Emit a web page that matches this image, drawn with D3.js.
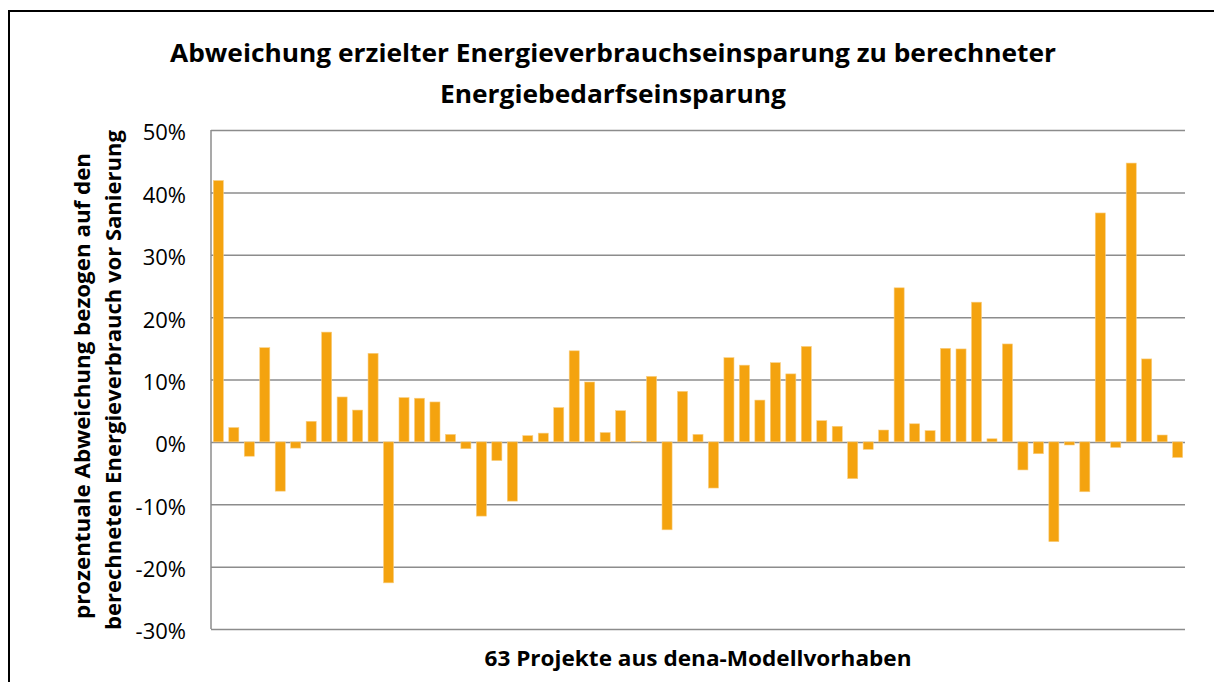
<!DOCTYPE html>
<html>
<head>
<meta charset="utf-8">
<script src="https://cdn.jsdelivr.net/npm/d3@7"></script>
<style>
  body { margin: 0; background: #fff; }
  svg { display: block; }
</style>
</head>
<body>
<div id="chart"></div>
<script>
// values (share, 0.1 = 10%)
const projects = d3.range(1, 64);
const deviation = [
  0.419, 0.023, -0.023, 0.151, -0.079, -0.010, 0.033, 0.176, 0.072, 0.051,
  0.142, -0.226, 0.071, 0.070, 0.064, 0.012, -0.011, -0.119, -0.030, -0.095,
  0.010, 0.014, 0.055, 0.146, 0.096, 0.015, 0.050, 0.001, 0.105, -0.141,
  0.081, 0.012, -0.074, 0.135, 0.123, 0.067, 0.127, 0.109, 0.153, 0.034,
  0.025, -0.059, -0.012, 0.019, 0.247, 0.029, 0.018, 0.150, 0.149, 0.224,
  0.005, 0.157, -0.045, -0.019, -0.160, -0.005, -0.080, 0.367, -0.009, 0.447,
  0.133, 0.011, -0.025
];
const yTicks = [0.5, 0.4, 0.3, 0.2, 0.1, 0, -0.1, -0.2, -0.3];
const titleLines = [
  "Abweichung erzielter Energieverbrauchseinsparung zu berechneter",
  "Energiebedarfseinsparung"
];
const yTitleLines = [
  "prozentuale Abweichung bezogen auf den",
  "berechneten Energieverbrauch vor Sanierung"
];
const xTitle = "63 Projekte aus dena-Modellvorhaben";

const width = 1214, height = 682;
const plot = { left: 211, right: 1185, top: 130, bottom: 629 };

const svg = d3.select("#chart")
  .append("svg")
  .attr("width", width)
  .attr("height", height);

// outer chart frame (runs off the right/bottom edge in the reference)
svg.append("rect")
  .attr("x", 9).attr("y", 11)
  .attr("width", 1230).attr("height", 700)
  .attr("fill", "#fff")
  .attr("stroke", "#000")
  .attr("stroke-width", 2);

const x = d3.scaleBand()
  .domain(projects)
  .range([plot.left, plot.right])
  .paddingInner(0.35)
  .paddingOuter(0.15);

const y = d3.scaleLinear()
  .domain([-0.3, 0.5])
  .range([plot.bottom, plot.top]);

const pct = d3.formatLocale({ decimal: ",", thousands: ".", grouping: [3], currency: ["", "€"], minus: "-" }).format(".0%");

// gridlines + tick labels
const yAxis = d3.axisLeft(y)
  .tickValues(yTicks)
  .tickFormat(pct)
  .tickSize(-(plot.right - plot.left))
  .tickPadding(25);

const gy = svg.append("g")
  .attr("transform", `translate(${plot.left},0)`)
  .call(yAxis);

gy.select(".domain").remove();
gy.selectAll(".tick line")
  .attr("stroke", "#8c8c8c")
  .attr("stroke-width", 1.5);
gy.selectAll(".tick text")
  .attr("fill", "#000")
  .style("font-family", "'Open Sans', sans-serif")
  .style("font-size", "22px")
  .attr("dy", "0.45em");

// left axis line
svg.append("line")
  .attr("x1", plot.left).attr("x2", plot.left)
  .attr("y1", plot.top).attr("y2", plot.bottom)
  .attr("stroke", "#8c8c8c")
  .attr("stroke-width", 1.5);

// bars
svg.append("g")
  .selectAll("rect")
  .data(deviation)
  .join("rect")
  .attr("x", (d, i) => x(projects[i]))
  .attr("width", x.bandwidth())
  .attr("y", d => y(Math.max(0, d)))
  .attr("height", d => Math.abs(y(d) - y(0)))
  .attr("fill", "#f4a30f")
  .attr("stroke", "#f9cf84")
  .attr("stroke-width", 0.6);

// title
svg.append("g")
  .selectAll("text")
  .data(titleLines)
  .join("text")
  .attr("x", 613)
  .attr("y", (d, i) => 62 + i * 41)
  .attr("text-anchor", "middle")
  .attr("textLength", (d, i) => i === 0 ? 886 : 346)
  .attr("lengthAdjust", "spacingAndGlyphs")
  .style("font-family", "'Open Sans', sans-serif")
  .style("font-weight", "bold")
  .style("font-size", "25px")
  .text(d => d);

// y axis title (rotated)
svg.append("g")
  .selectAll("text")
  .data(yTitleLines)
  .join("text")
  .attr("transform", (d, i) => `translate(${90 + i * 31},${i === 0 ? 386 : 380}) rotate(-90)`)
  .attr("text-anchor", "middle")
  .attr("textLength", (d, i) => i === 0 ? 466 : 500)
  .attr("lengthAdjust", "spacingAndGlyphs")
  .style("font-family", "'Open Sans', sans-serif")
  .style("font-weight", "bold")
  .style("font-size", "22px")
  .text(d => d);

// x axis title
svg.append("text")
  .attr("x", 698)
  .attr("y", 666)
  .attr("text-anchor", "middle")
  .attr("textLength", 427)
  .attr("lengthAdjust", "spacingAndGlyphs")
  .style("font-family", "'Open Sans', sans-serif")
  .style("font-weight", "bold")
  .style("font-size", "21px")
  .text(xTitle);
</script>
</body>
</html>
